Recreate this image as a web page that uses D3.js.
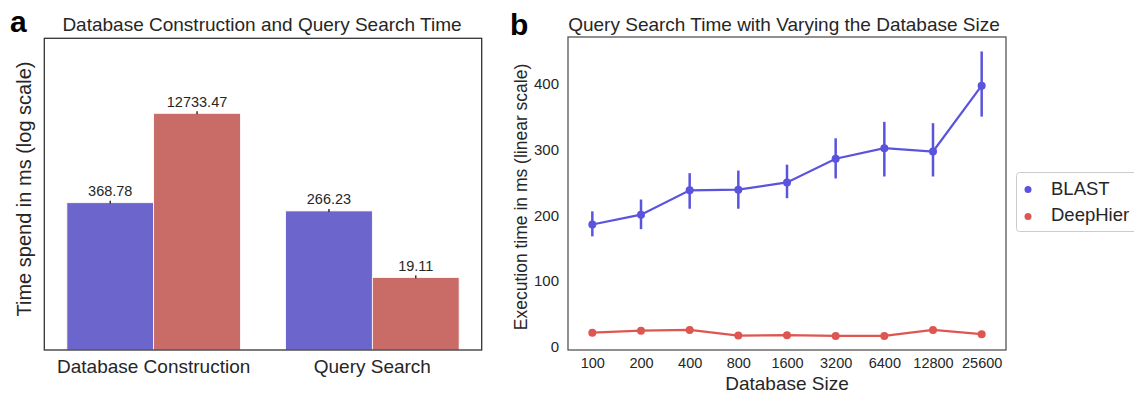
<!DOCTYPE html>
<html>
<head>
<meta charset="utf-8">
<script src="https://cdn.jsdelivr.net/npm/d3@7"></script>
<style>
  body { margin:0; background:#fff; }
  text { font-family: "Liberation Sans", Arial, sans-serif; fill:#262626; }
</style>
</head>
<body>
<div id="plot"></div>
<script>
// panel a data
var groups = ['Database Construction', 'Query Search'];
var methods = ['BLAST', 'DeepHier'];
var blastTimes = [368.78, 266.23];
var deepHierTimes = [12733.47, 19.11];

// panel b data
var dbSizes = ['100','200','400','800','1600','3200','6400','12800','25600'];
var blastMean = [186, 201, 238, 239, 250, 286, 302, 297, 397];
var blastLow  = [168, 179, 210, 210, 226, 256, 259, 259, 350];
var blastHigh = [206, 224, 264, 268, 277, 317, 342, 340, 449];
var deepMean  = [21.7, 24.7, 25.8, 17.2, 17.8, 16.7, 16.7, 25.8, 19.3];

var barColors = ['#6c66cc', '#c96b66'];
var lineColors = ['#5a53dd', '#de5650'];

var svg = d3.select('#plot').append('svg')
  .attr('width', 1134).attr('height', 393);

// ---------- panel a ----------
var a = {l:44.3, r:481.7, t:38.3, b:350};
var x0 = d3.scaleBand().domain(groups).range([a.l, a.r]);
var x1 = d3.scaleBand().domain(methods).range([0, x0.bandwidth()]).paddingOuter(0.26);
var yA = d3.scaleLog().domain([1.076, 248900]).range([a.b, a.t]);

var barData = [];
groups.forEach(function(g, i) {
  barData.push({g:g, m:'BLAST', v:blastTimes[i]});
  barData.push({g:g, m:'DeepHier', v:deepHierTimes[i]});
});

var pa = svg.append('g');
pa.selectAll('rect.bar').data(barData).enter().append('rect')
  .attr('class','bar')
  .attr('x', function(d){ return x0(d.g) + x1(d.m); })
  .attr('y', function(d){ return yA(d.v); })
  .attr('width', x1.bandwidth())
  .attr('height', function(d){ return a.b - yA(d.v); })
  .attr('fill', function(d){ return barColors[methods.indexOf(d.m)]; })
  .attr('stroke', '#fff').attr('stroke-width', 0.8);

// tiny error ticks
pa.selectAll('line.err').data(barData).enter().append('line')
  .attr('x1', function(d){ return x0(d.g) + x1(d.m) + x1.bandwidth()/2; })
  .attr('x2', function(d){ return x0(d.g) + x1(d.m) + x1.bandwidth()/2; })
  .attr('y1', function(d){ return yA(d.v) - 2; })
  .attr('y2', function(d){ return yA(d.v) + 1; })
  .attr('stroke', '#333').attr('stroke-width', 1.5);

pa.selectAll('text.val').data(barData).enter().append('text')
  .attr('x', function(d){ return x0(d.g) + x1(d.m) + x1.bandwidth()/2; })
  .attr('y', function(d){ return yA(d.v) - 6.5; })
  .attr('text-anchor','middle')
  .style('font-size','14.5px')
  .text(function(d){ return d.v.toFixed(2); });

pa.append('rect').attr('x', a.l).attr('y', a.t)
  .attr('width', a.r - a.l).attr('height', a.b - a.t)
  .attr('fill','none').attr('stroke','#333').attr('stroke-width',1.3);

pa.selectAll('text.grp').data(groups).enter().append('text')
  .attr('x', function(d){ return x0(d) + x0.bandwidth()/2; })
  .attr('y', 373)
  .attr('text-anchor','middle')
  .style('font-size','19px')
  .text(function(d){ return d; });

pa.append('text').attr('x', (a.l + a.r)/2 - 1).attr('y', 31)
  .attr('text-anchor','middle').style('font-size','19px')
  .text('Database Construction and Query Search Time');

pa.append('text').attr('transform','translate(31,189) rotate(-90)')
  .attr('text-anchor','middle').style('font-size','20px')
  .text('Time spend in ms (log scale)');

svg.append('text').attr('x', 10).attr('y', 31.7)
  .style('font-size','30px').style('font-weight','bold').style('fill','#000')
  .text('a');

// ---------- panel b ----------
var b = {l:568, r:1006, t:37, b:350};
var xB = d3.scalePoint().domain(dbSizes).range([b.l, b.r]).padding(0.5);
var yB = d3.scaleLinear().domain([-4.7, 471]).range([b.b, b.t]);

var pb = svg.append('g');
pb.append('rect').attr('x', b.l).attr('y', b.t)
  .attr('width', b.r - b.l).attr('height', b.b - b.t)
  .attr('fill','none').attr('stroke','#555').attr('stroke-width',1.3);

var yAxis = pb.append('g').attr('transform','translate(' + b.l + ',0)')
  .call(d3.axisLeft(yB).tickValues([0,100,200,300,400]).tickSize(0).tickPadding(9));
yAxis.select('.domain').remove();
yAxis.selectAll('text').style('font-size','15px').style('fill','#262626')
  .style('font-family','"Liberation Sans", Arial, sans-serif');

var xAxis = pb.append('g').attr('transform','translate(0,' + b.b + ')')
  .call(d3.axisBottom(xB).tickSize(0).tickPadding(8));
xAxis.select('.domain').remove();
xAxis.selectAll('text').style('font-size','14.5px').style('fill','#262626')
  .style('font-family','"Liberation Sans", Arial, sans-serif');

var blastPts = dbSizes.map(function(s, i){ return {s:s, v:blastMean[i], lo:blastLow[i], hi:blastHigh[i]}; });
var deepPts = dbSizes.map(function(s, i){ return {s:s, v:deepMean[i]}; });

var line = d3.line().x(function(d){ return xB(d.s); }).y(function(d){ return yB(d.v); });

pb.selectAll('line.ebar').data(blastPts).enter().append('line')
  .attr('x1', function(d){ return xB(d.s); }).attr('x2', function(d){ return xB(d.s); })
  .attr('y1', function(d){ return yB(d.lo); }).attr('y2', function(d){ return yB(d.hi); })
  .attr('stroke', lineColors[0]).attr('stroke-width', 2.5);

pb.append('path').datum(blastPts).attr('d', line)
  .attr('fill','none').attr('stroke', lineColors[0]).attr('stroke-width', 2.2);
pb.append('path').datum(deepPts).attr('d', line)
  .attr('fill','none').attr('stroke', lineColors[1]).attr('stroke-width', 2.2);

pb.selectAll('circle.bp').data(blastPts).enter().append('circle')
  .attr('cx', function(d){ return xB(d.s); }).attr('cy', function(d){ return yB(d.v); })
  .attr('r', 4).attr('fill', lineColors[0]);
pb.selectAll('circle.dp').data(deepPts).enter().append('circle')
  .attr('cx', function(d){ return xB(d.s); }).attr('cy', function(d){ return yB(d.v); })
  .attr('r', 4).attr('fill', lineColors[1]);

pb.append('text').attr('x', (b.l + b.r)/2 - 3).attr('y', 31)
  .attr('text-anchor','middle').style('font-size','19px')
  .text('Query Search Time with Varying the Database Size');

pb.append('text').attr('x', (b.l + b.r)/2).attr('y', 390)
  .attr('text-anchor','middle').style('font-size','19px')
  .text('Database Size');

pb.append('text').attr('transform','translate(527,197) rotate(-90)')
  .attr('text-anchor','middle').style('font-size','17.5px')
  .text('Execution time in ms (linear scale)');

svg.append('text').attr('x', 510).attr('y', 35)
  .style('font-size','30px').style('font-weight','bold').style('fill','#000')
  .text('b');

// legend
var lg = svg.append('g');
lg.append('rect').attr('x', 1016.5).attr('y', 172.5).attr('width', 130).attr('height', 59)
  .attr('rx', 3).attr('fill','#fff').attr('stroke','#ccc');
methods.forEach(function(m, i) {
  lg.append('circle').attr('cx', 1028).attr('cy', 189.5 + i*27).attr('r', 3.5).attr('fill', lineColors[i]);
  lg.append('text').attr('x', 1051).attr('y', 194.5 + i*26.7).style('font-size','18.5px').text(m);
});
</script>
</body>
</html>
